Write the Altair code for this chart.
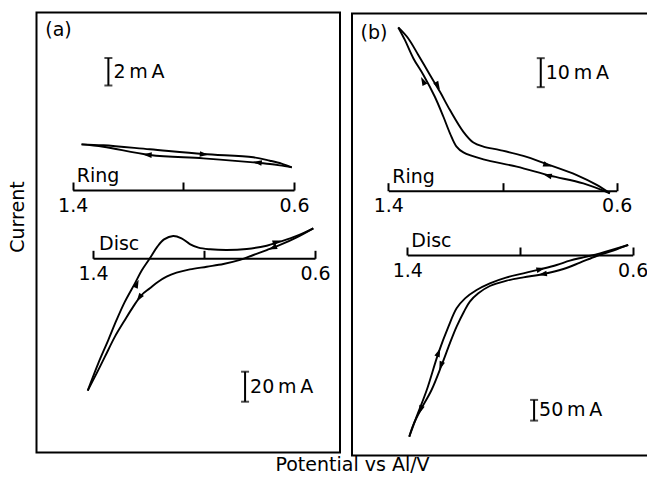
import altair as alt
import pandas as pd

FONT = "DejaVu Sans"
FS = 19

# ---------------- Panel (a) : Ring (mA vs V) ----------------
ring_a_rev_E = [0.608, 0.651, 0.687, 0.747, 0.928, 1.121, 1.289, 1.368]
ring_a_rev_I = [1.65, 1.79, 1.89, 2.01, 2.30, 2.55, 3.15, 3.32]
ring_a_fwd_E = [1.368, 1.289, 1.121, 0.928, 0.747, 0.687, 0.645, 0.608]
ring_a_fwd_I = [3.32, 3.25, 2.96, 2.62, 2.38, 2.13, 1.92, 1.65]
ring_a_arrow_E = [1.127, 0.928, 0.729]
ring_a_arrow_I = [2.55, 2.60, 2.00]
ring_a_arrow_ang = [274, 95, 278]

# ---------------- Panel (a) : Disc ----------------
disc_a_fwd_E = [1.419, 1.381, 1.345, 1.315, 1.285, 1.249, 1.225, 1.195, 1.168, 1.144,
                1.111, 1.081, 1.051, 1.020, 0.978, 0.918, 0.846, 0.774, 0.726, 0.666, 0.606]
disc_a_fwd_I = [-88.2, -70.0, -54.5, -41.1, -28.9, -16.7, -8.3, 0.0, 7.8, 12.6,
                14.9, 13.3, 9.5, 7.1, 6.0, 5.5, 6.2, 8.4, 11.1, 14.9, 20.0]
disc_a_rev_E = [0.606, 0.666, 0.726, 0.774, 0.822, 0.870, 0.930, 0.990, 1.051, 1.099,
                1.135, 1.165, 1.195, 1.225, 1.255, 1.285, 1.321, 1.357, 1.387, 1.419]
disc_a_rev_I = [20.0, 14.0, 8.9, 5.5, 2.2, -1.1, -3.8, -5.6, -7.4, -9.6,
                -12.2, -15.6, -20.0, -24.5, -32.2, -41.1, -52.2, -65.6, -76.7, -88.2]
disc_a_arrow_E = [1.243, 1.232, 0.740, 0.750]
disc_a_arrow_I = [-17.5, -26.0, 10.8, 7.1]
disc_a_arrow_ang = [24, 215, 73, 249]

# ---------------- Panel (b) : Ring ----------------
ring_b_rev_E = [0.624, 0.717, 0.834, 0.950, 1.067, 1.137, 1.161, 1.184, 1.207, 1.237,
                1.277, 1.312, 1.342, 1.365]
ring_b_rev_I = [-0.9, 2.5, 5.2, 8.3, 10.8, 13.2, 15.2, 19.8, 25.5, 32.4,
                39.9, 45.6, 52.0, 56.3]
ring_b_fwd_E = [1.365, 1.330, 1.295, 1.254, 1.219, 1.184, 1.137, 1.102, 1.067, 1.009,
                0.927, 0.845, 0.740, 0.670, 0.624]
ring_b_fwd_I = [56.3, 52.5, 46.8, 39.9, 34.1, 27.8, 20.3, 16.6, 15.2, 14.0,
                12.0, 9.2, 5.4, 2.0, -0.9]
ring_b_arrow_E = [1.277, 1.228, 0.845, 0.840]
ring_b_arrow_I = [37.6, 36.4, 8.9, 5.2]
ring_b_arrow_ang = [333, 151, 108, 284]

# ---------------- Panel (b) : Disc ----------------
disc_b_fwd_E = [1.393, 1.367, 1.331, 1.290, 1.254, 1.225, 1.195, 1.154, 1.107, 1.047,
                0.988, 0.929, 0.870, 0.823, 0.775, 0.716, 0.616]
disc_b_fwd_I = [-438.8, -390.5, -326.1, -237.5, -173.1, -128.8, -104.7, -84.5, -68.4, -53.9,
                -44.3, -34.6, -24.2, -13.7, -5.6, 4.0, 24.2]
disc_b_rev_E = [0.616, 0.669, 0.728, 0.787, 0.846, 0.917, 0.988, 1.047, 1.107, 1.148,
                1.178, 1.199, 1.225, 1.249, 1.278, 1.314, 1.353, 1.379, 1.393]
disc_b_rev_I = [24.2, 10.5, -2.4, -18.5, -33.8, -45.9, -53.9, -62.0, -74.9, -92.6,
                -112.7, -136.9, -173.1, -213.4, -265.7, -326.1, -374.4, -410.6, -438.8]
disc_b_arrow_E = [1.290, 1.280, 1.352, 0.929, 0.917]
disc_b_arrow_I = [-237.5, -265.7, -372.0, -34.6, -45.9]
disc_b_arrow_ang = [21, 200, 200, 76, 260]

# scale bars: (potential, low current, high current, label)
bar_ring_a = (1.271, 7.6, 9.6, "2\u2009m\u2009A")
bar_disc_a = (0.852, -95.6, -75.6, "20\u2009m\u2009A")
bar_ring_b = (0.866, 35.7, 45.7, "10\u2009m\u2009A")
bar_disc_b = (0.950, -400.0, -350.0, "50\u2009m\u2009A")

tick_values = [1.4, 1.0, 0.6]

ARROW = "M0,-1.2L0.65,0.8L-0.65,0.8Z"


def lines_df(fE, fI, rE, rI):
    rows = [{"E": e, "I": i, "branch": "fwd", "k": n} for n, (e, i) in enumerate(zip(fE, fI))]
    rows += [{"E": e, "I": i, "branch": "rev", "k": n} for n, (e, i) in enumerate(zip(rE, rI))]
    return pd.DataFrame(rows)


def group(ldf, aE, aI, aA, bar, name, xa, xb, y0, k, span, name_dx):
    xs = alt.Scale(domain=[1.4, 0.6], range=[xa, xb], nice=False, zero=False)
    ys = alt.Scale(domain=[0, span], range=[y0, y0 - span * k], nice=False, zero=False)
    ax = alt.Axis(orient="top", offset=-y0, values=tick_values,
                  labelExpr="datum.value == 1 ? '' : format(datum.value, '.1f')",
                  tickSize=8, tickWidth=2, domainWidth=2, domainColor="black",
                  tickColor="black", labelColor="black", labelFont=FONT, labelFontSize=FS,
                  labelPadding=-14, labelBaseline="top", labelFlush=False,
                  labelOverlap=False, labelBound=False, grid=False, title=None)

    def X(f):
        return alt.X(f, type="quantitative", scale=xs, axis=ax)

    def Y(f):
        return alt.Y(f, type="quantitative", scale=ys, axis=None)

    line = alt.Chart(ldf).mark_line(color="black", strokeWidth=1.9,
                                    interpolate="catmull-rom").encode(
        x=X("E"), y=Y("I"), detail="branch:N", order="k:Q")
    adf = pd.DataFrame({"E": aE, "I": aI, "ang": aA})
    arrows = alt.Chart(adf).mark_point(shape=ARROW, filled=True, color="black",
                                       size=75, opacity=1).encode(
        x=X("E"), y=Y("I"), angle=alt.Angle("ang:Q", scale=None))
    bE, b1, b2, btxt = bar
    bdf = pd.DataFrame({"E": [bE], "I": [b1], "I2": [b2], "Im": [(b1 + b2) / 2], "t": [btxt]})
    cdf = pd.DataFrame({"E": [bE, bE], "I": [b1, b2]})
    rule = alt.Chart(bdf).mark_rule(color="black", strokeWidth=2).encode(
        x=X("E"), y=Y("I"), y2="I2")
    caps = alt.Chart(cdf).mark_tick(orient="horizontal", color="black", size=8,
                                    thickness=2).encode(x=X("E"), y=Y("I"))
    btext = alt.Chart(bdf).mark_text(font=FONT, fontSize=FS, align="left",
                                     baseline="middle", dx=5, color="black").encode(
        x=X("E"), y=Y("Im"), text="t:N")
    ndf = pd.DataFrame({"E": [1.4], "I": [0.0], "t": [name]})
    ntext = alt.Chart(ndf).mark_text(font=FONT, fontSize=FS, align="left",
                                     baseline="alphabetic", dx=name_dx, dy=-8,
                                     color="black").encode(
        x=X("E"), y=Y("I"), text="t:N")
    return alt.layer(line, arrows, rule, caps, btext, ntext)


g_ring_a = group(lines_df(ring_a_fwd_E, ring_a_fwd_I, ring_a_rev_E, ring_a_rev_I),
                 ring_a_arrow_E, ring_a_arrow_I, ring_a_arrow_ang, bar_ring_a, "Ring",
                 72.7, 294.0, 190.0, 13.75, 10, 4)
g_disc_a = group(lines_df(disc_a_fwd_E, disc_a_fwd_I, disc_a_rev_E, disc_a_rev_I),
                 disc_a_arrow_E, disc_a_arrow_I, disc_a_arrow_ang, bar_disc_a, "Disc",
                 93.0, 315.0, 258.3, 1.5, 100, 6)
g_ring_b = group(lines_df(ring_b_fwd_E, ring_b_fwd_I, ring_b_rev_E, ring_b_rev_I),
                 ring_b_arrow_E, ring_b_arrow_I, ring_b_arrow_ang, bar_ring_b, "Ring",
                 388.3, 616.7, 190.7, 2.9, 50, 4)
g_disc_b = group(lines_df(disc_b_fwd_E, disc_b_fwd_I, disc_b_rev_E, disc_b_rev_I),
                 disc_b_arrow_E, disc_b_arrow_I, disc_b_arrow_ang, bar_disc_b, "Disc",
                 407.3, 632.7, 255.0, 0.414, 200, 4)

frame_a = alt.Chart().mark_rect(fillOpacity=0, stroke="black", strokeWidth=2).encode(
    x=alt.value(36.5), x2=alt.value(340), y=alt.value(12.5), y2=alt.value(452.5))
frame_b = alt.Chart().mark_rect(fillOpacity=0, stroke="black", strokeWidth=2).encode(
    x=alt.value(352), x2=alt.value(720), y=alt.value(13.5), y2=alt.value(455.5))

lab_a = alt.Chart().mark_text(text="(a)", font=FONT, fontSize=FS, color="black").encode(
    x=alt.value(58.5), y=alt.value(30))
lab_b = alt.Chart().mark_text(text="(b)", font=FONT, fontSize=FS, color="black").encode(
    x=alt.value(374), y=alt.value(33))
ytitle = alt.Chart().mark_text(text="Current", font=FONT, fontSize=FS, angle=270,
                               color="black").encode(x=alt.value(18), y=alt.value(217))
xtitle = alt.Chart().mark_text(text="Potential vs Al/V", font=FONT, fontSize=19,
                               color="black").encode(x=alt.value(352.5), y=alt.value(465))

chart = alt.layer(
    g_ring_a, g_disc_a, g_ring_b, g_disc_b, frame_a, frame_b, lab_a, lab_b, ytitle, xtitle
).resolve_scale(x="independent", y="independent").properties(
    width=647, height=480, padding=0,
    autosize=alt.AutoSizeParams(type="none"),
    background="white",
).configure_view(stroke=None)

chart.save("out.html", embed_options={"renderer": "svg", "actions": False})
